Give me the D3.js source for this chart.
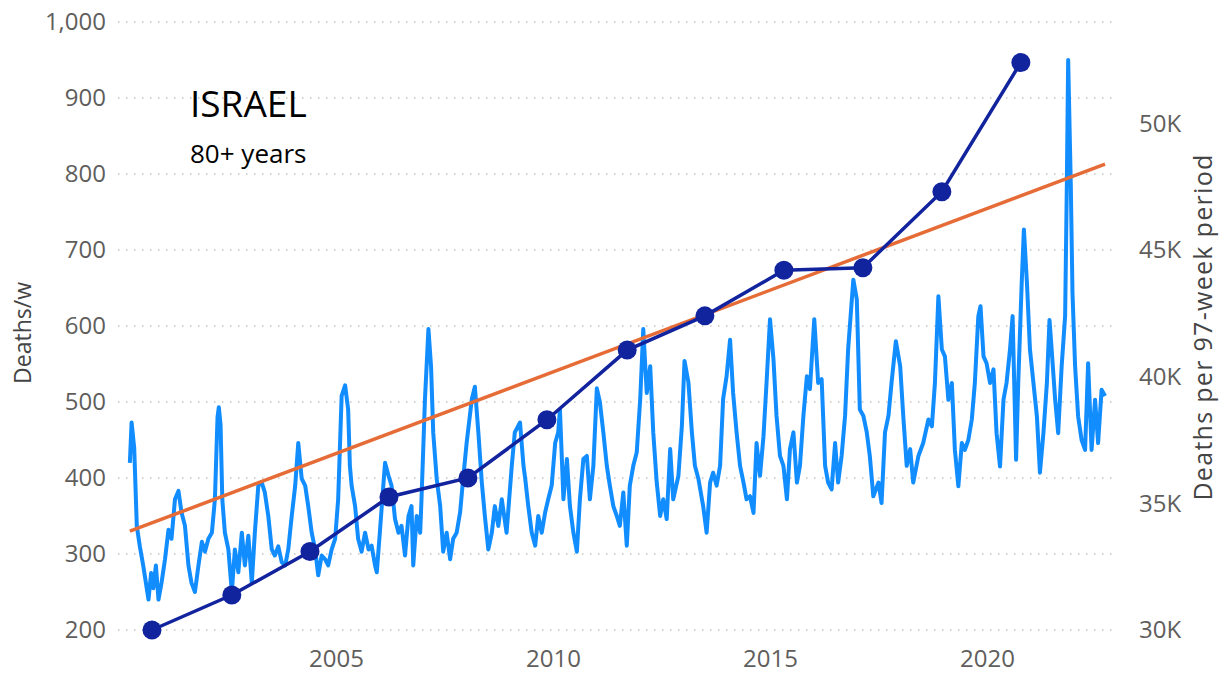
<!DOCTYPE html>
<html>
<head>
<meta charset="utf-8">
<script src="https://cdn.jsdelivr.net/npm/d3@7"></script>
<style>
  html, body { margin: 0; padding: 0; background: #ffffff; }
  svg { display: block; }
  text { font-family: "Open Sans", "DejaVu Sans", sans-serif; }
</style>
</head>
<body>
<svg id="chart" width="1224" height="680"></svg>
<script>
// ---- Data ----
const leftTicks = [200, 300, 400, 500, 600, 700, 800, 900, 1000];
const rightTicks = [30000, 35000, 40000, 45000, 50000];
const xTicks = [2005, 2010, 2015, 2020];

// Weekly deaths (80+), decimal year of sample
const weekYear = [
2000.25,2000.29,2000.35,2000.41,2000.48,2000.56,2000.62,2000.68,2000.74,2000.79,2000.85,2000.91,2000.98,
2001.06,2001.14,2001.21,2001.29,2001.37,2001.44,2001.52,2001.60,2001.67,2001.75,2001.83,2001.91,2001.98,
2002.06,2002.14,2002.21,2002.27,2002.30,2002.34,2002.38,2002.44,2002.52,2002.60,2002.67,2002.75,2002.83,2002.90,2002.98,
2003.06,2003.13,2003.21,2003.29,2003.36,2003.44,2003.52,2003.59,2003.67,2003.75,2003.83,2003.90,2003.98,
2004.06,2004.13,2004.21,2004.29,2004.36,2004.44,2004.52,2004.59,2004.67,2004.75,2004.82,2004.90,2004.98,
2005.05,2005.13,2005.21,2005.28,2005.32,2005.36,2005.44,2005.51,2005.59,2005.67,2005.75,2005.82,2005.90,2005.94,
2006.01,2006.09,2006.13,2006.21,2006.28,2006.36,2006.44,2006.51,2006.59,2006.67,2006.74,2006.78,2006.86,2006.94,2006.97,
2007.05,2007.13,2007.19,2007.24,2007.32,2007.40,2007.47,2007.55,2007.63,2007.70,2007.78,2007.86,2007.93,
2008.01,2008.13,2008.20,2008.28,2008.36,2008.43,2008.51,2008.59,2008.66,2008.74,2008.82,2008.93,
2009.05,2009.12,2009.24,2009.32,2009.36,2009.43,2009.51,2009.59,2009.66,2009.74,2009.82,2009.89,2009.97,
2010.05,2010.12,2010.16,2010.24,2010.32,2010.39,2010.47,2010.55,2010.62,2010.70,2010.78,2010.85,2010.93,
2011.01,2011.08,2011.16,2011.24,2011.31,2011.39,2011.47,2011.54,2011.62,2011.70,2011.77,2011.85,2011.93,
2012.01,2012.08,2012.16,2012.24,2012.31,2012.39,2012.47,2012.54,2012.62,2012.70,2012.77,2012.89,2012.97,
2013.03,2013.12,2013.20,2013.27,2013.35,2013.46,2013.54,2013.62,2013.69,2013.77,2013.85,2013.92,
2014.00,2014.08,2014.15,2014.23,2014.31,2014.39,2014.46,2014.54,2014.62,2014.69,2014.77,2014.85,2014.92,
2015.00,2015.08,2015.15,2015.23,2015.31,2015.39,2015.46,2015.54,2015.62,2015.69,2015.77,2015.85,2015.92,
2016.02,2016.11,2016.19,2016.27,2016.34,2016.42,2016.50,2016.57,2016.65,2016.73,2016.80,2016.92,
2017.00,2017.07,2017.15,2017.23,2017.30,2017.38,2017.50,2017.57,2017.65,2017.73,2017.80,2017.90,
2018.00,2018.07,2018.15,2018.23,2018.30,2018.42,2018.53,2018.65,2018.73,2018.80,2018.88,2018.96,
2019.03,2019.11,2019.19,2019.26,2019.34,2019.42,2019.49,2019.57,2019.65,2019.72,2019.80,2019.85,2019.92,2019.99,
2020.07,2020.15,2020.22,2020.30,2020.38,2020.45,2020.53,2020.59,2020.67,2020.72,2020.80,2020.85,2020.92,2020.99,
2021.07,2021.15,2021.22,2021.30,2021.38,2021.44,2021.49,2021.57,2021.64,2021.72,2021.80,2021.84,2021.87,2021.93,2021.97,
2022.03,2022.10,2022.18,2022.26,2022.33,2022.41,2022.49,2022.56,2022.64,2022.72
];
const weekDeaths = [
420,473,440,337,310,284,262,240,275,255,285,240,262,
293,332,320,372,383,355,337,285,262,250,285,316,303,
320,328,372,480,493,470,372,328,306,250,306,276,328,285,324,
262,328,390,394,381,350,306,298,310,289,285,306,350,
390,446,399,390,363,328,306,272,298,293,285,306,320,
372,508,522,490,416,390,363,320,303,328,306,311,285,276,
328,390,420,403,390,346,328,337,298,350,363,285,350,328,372,
504,596,547,460,399,363,303,328,293,320,328,355,399,
446,504,520,460,394,350,306,328,363,337,372,328,
416,460,473,416,399,363,328,311,350,328,355,372,390,
446,460,490,372,425,363,328,303,372,425,429,372,416,
518,500,460,416,390,363,350,337,381,311,390,416,434,
504,596,512,547,460,394,350,372,346,438,372,403,469,
554,526,460,416,399,363,328,394,407,390,416,504,
534,582,512,460,416,394,372,376,354,446,403,455,525,
609,556,482,429,416,372,438,460,394,416,482,534,517,
609,525,530,416,394,385,446,394,429,482,569,661,
635,490,482,460,429,376,394,367,460,482,525,580,
547,482,416,438,394,429,446,477,468,525,639,569,
560,503,525,437,389,446,437,450,477,525,613,626,560,551,
525,543,459,415,503,525,569,613,424,525,657,727,657,569,
525,481,407,459,525,608,569,503,459,547,613,788,950,788,643,
547,481,450,437,551,437,503,446,516,508
];

// Deaths per 97-week period (right axis)
const periodYear = [2000.76, 2002.60, 2004.40, 2006.22, 2008.04, 2009.86, 2011.71, 2013.50, 2015.32, 2017.14, 2018.96, 2020.78];
const periodDeaths = [30000, 31380, 33100, 35250, 36000, 38300, 41050, 42400, 44200, 44300, 47300, 52400];

// Linear trend (left axis), endpoints
const trendYear = [2000.25, 2022.72];
const trendDeaths = [330, 813];

// ---- Drawing ----
const svg = d3.select("#chart");
const x = d3.scaleLinear().domain([2000, 2022.9]).range([119, 119 + 22.9 * 43.4]);
const yL = d3.scaleLinear().domain([200, 1000]).range([630, 22]);
const yR = d3.scaleLinear().domain([30000, 54000]).range([630, 22]);

const labelColor = "#605E5C";

// gridlines
svg.append("g").selectAll("line").data(leftTicks).join("line")
  .attr("x1", 118).attr("x2", 1115)
  .attr("y1", d => yL(d)).attr("y2", d => yL(d))
  .attr("stroke", "#C8C6C4").attr("stroke-width", 1.5)
  .attr("stroke-dasharray", "1.5,6.5");

// left axis
const gL = svg.append("g").attr("transform", "translate(106,0)")
  .call(d3.axisLeft(yL).tickValues(leftTicks).tickSize(0).tickPadding(0).tickFormat(d3.format(",")));
gL.select(".domain").remove();
gL.selectAll("text").attr("font-size", 24).attr("fill", labelColor)
  .attr("font-family", "'Open Sans', sans-serif");

// right axis
const gR = svg.append("g").attr("transform", "translate(1139,0)")
  .call(d3.axisRight(yR).tickValues(rightTicks).tickSize(0).tickPadding(0).tickFormat(d => (d / 1000) + "K"));
gR.select(".domain").remove();
gR.selectAll("text").attr("font-size", 24).attr("fill", labelColor)
  .attr("font-family", "'Open Sans', sans-serif");

// bottom axis
const gX = svg.append("g").attr("transform", "translate(0,650)")
  .call(d3.axisBottom(x).tickValues(xTicks).tickSize(0).tickPadding(0).tickFormat(d3.format("d")));
gX.select(".domain").remove();
gX.selectAll("text").attr("font-size", 24).attr("fill", labelColor)
  .attr("font-family", "'Open Sans', sans-serif");

// axis titles
svg.append("text").attr("transform", "translate(31,333) rotate(-90)")
  .attr("text-anchor", "middle").attr("font-size", 23).attr("fill", "#444")
  .text("Deaths/w");
svg.append("text").attr("transform", "translate(1212,327) rotate(-90)")
  .attr("text-anchor", "middle").attr("font-size", 25).attr("letter-spacing", 1.3)
  .attr("fill", "#444")
  .text("Deaths per 97-week period");

// weekly line
const weekly = weekYear.map((t, i) => [t, weekDeaths[i]]);
svg.append("path").datum(weekly)
  .attr("d", d3.line().x(d => x(d[0])).y(d => yL(d[1])))
  .attr("fill", "none").attr("stroke", "#118DFF").attr("stroke-width", 4)
  .attr("stroke-linejoin", "round");

// trend line
const trend = trendYear.map((t, i) => [t, trendDeaths[i]]);
svg.append("path").datum(trend)
  .attr("d", d3.line().x(d => x(d[0])).y(d => yL(d[1])))
  .attr("fill", "none").attr("stroke", "#E66C37").attr("stroke-width", 3.5);

// 97-week period line + markers
const period = periodYear.map((t, i) => [t, periodDeaths[i]]);
svg.append("path").datum(period)
  .attr("d", d3.line().x(d => x(d[0])).y(d => yR(d[1])))
  .attr("fill", "none").attr("stroke", "#12239E").attr("stroke-width", 3.5);
svg.append("g").selectAll("circle").data(period).join("circle")
  .attr("cx", d => x(d[0])).attr("cy", d => yR(d[1])).attr("r", 9.5)
  .attr("fill", "#12239E");

// annotation
svg.append("text").attr("x", 190).attr("y", 117).attr("font-size", 37)
  .attr("fill", "#000").text("ISRAEL");
svg.append("text").attr("x", 190).attr("y", 163).attr("font-size", 26)
  .attr("fill", "#000").text("80+ years");
</script>
</body>
</html>
